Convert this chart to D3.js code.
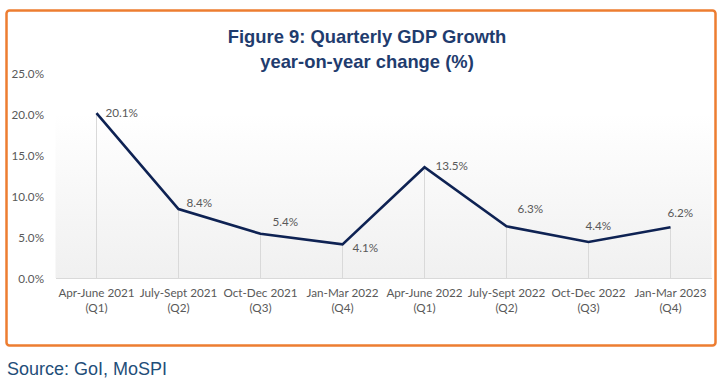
<!DOCTYPE html>
<html><head><meta charset="utf-8">
<script src="https://cdn.jsdelivr.net/npm/d3@7"></script>
<style>
html,body{margin:0;padding:0;background:#fff;}
svg{display:block;}
</style></head>
<body>
<svg id="chart" width="725" height="391"></svg>
<script>
const categories = ["Apr-June 2021|(Q1)","July-Sept 2021|(Q2)","Oct-Dec 2021|(Q3)","Jan-Mar 2022|(Q4)","Apr-June 2022|(Q1)","July-Sept 2022|(Q2)","Oct-Dec 2022|(Q3)","Jan-Mar 2023|(Q4)"];
const gdpGrowth = [20.1, 8.4, 5.4, 4.1, 13.5, 6.3, 4.4, 6.2];
const yTicks = [0, 5, 10, 15, 20, 25];
const titleLines = ["Figure 9: Quarterly GDP Growth", "year-on-year change (%)"];
const sourceText = "Source: GoI, MoSPI";
// label offsets (dx, dy) relative to point
const labelOffsets = [[9,4],[8,-2],[12,-8],[10,8],[11,3],[11,-13],[-3,-12],[-3,-10]];

const svg = d3.select("#chart");

const x = d3.scaleBand().domain(categories).range([55.5, 711.5]);
const y = d3.scaleLinear().domain([0, 25]).range([278, 73]);
const labelFont = "Lato, 'Open Sans', sans-serif";

// orange frame
svg.append("rect").attr("x",6.5).attr("y",10.5).attr("width",709).attr("height",335)
  .attr("rx",3).attr("fill","#fff").attr("stroke","#ED7D31").attr("stroke-width",2.5);

// gradient plot background
const defs = svg.append("defs");
const g = defs.append("linearGradient").attr("id","bg").attr("x1",0).attr("y1",0).attr("x2",0).attr("y2",1);
g.append("stop").attr("offset","0%").attr("stop-color","#ffffff");
g.append("stop").attr("offset","20%").attr("stop-color","#ffffff");
g.append("stop").attr("offset","100%").attr("stop-color","#f0f0f0");
svg.append("rect").attr("x",55.5).attr("y",y(25)).attr("width",656).attr("height",y(0)-y(25)).attr("fill","url(#bg)");

// title
const title = svg.append("text").attr("text-anchor","middle")
  .attr("font-family","'Liberation Sans', Arial, sans-serif").attr("font-weight","bold")
  .attr("font-size",18.4).attr("fill","#1F3C6E");
titleLines.forEach((t,i)=>title.append("tspan").attr("x",367).attr("y",43+i*25).text(t));

// drop lines
svg.append("g").selectAll("line").data(gdpGrowth).join("line")
  .attr("x1",(d,i)=>x(categories[i])+x.bandwidth()/2)
  .attr("x2",(d,i)=>x(categories[i])+x.bandwidth()/2)
  .attr("y1",d=>y(d)).attr("y2",y(0))
  .attr("stroke","#D9D9D9").attr("stroke-width",1);

// x axis
const xAxis = svg.append("g").attr("transform",`translate(0,${y(0)})`)
  .call(d3.axisBottom(x).tickSize(0).tickFormat(""));
xAxis.select(".domain").attr("stroke","#D9D9D9").attr("stroke-width",1.2);
xAxis.selectAll(".tick").each(function(d){
  const parts = d.split("|");
  const t = d3.select(this).append("text").attr("fill","#595959")
    .attr("font-family",labelFont).attr("font-size",11.7).attr("text-anchor","middle");
  parts.forEach((p,i)=>t.append("tspan").attr("x",0).attr("y",18.5+i*15).text(p));
});

// y axis
const yAxis = svg.append("g").attr("transform","translate(44,0)")
  .call(d3.axisLeft(y).tickValues(yTicks).tickSize(0).tickPadding(0).tickFormat(d=>d.toFixed(1)+"%"));
yAxis.select(".domain").remove();
yAxis.selectAll("text").attr("fill","#595959").attr("font-family",labelFont).attr("font-size",11.7).attr("dy","0.35em");

// line
const line = d3.line().x((d,i)=>x(categories[i])+x.bandwidth()/2).y(d=>y(d));
svg.append("path").datum(gdpGrowth).attr("d",line).attr("fill","none")
  .attr("stroke","#0E2253").attr("stroke-width",2.6).attr("stroke-linejoin","miter");

// data labels
svg.append("g").selectAll("text").data(gdpGrowth).join("text")
  .attr("x",(d,i)=>x(categories[i])+x.bandwidth()/2+labelOffsets[i][0])
  .attr("y",(d,i)=>y(d)+labelOffsets[i][1])
  .attr("fill","#595959").attr("font-family",labelFont).attr("font-size",11.7)
  .text(d=>d.toFixed(1)+"%");

// source
svg.append("text").attr("x",7).attr("y",375).attr("fill","#1F4E79")
  .attr("font-family","'Liberation Sans', Arial, sans-serif").attr("font-size",18).text(sourceText);
</script>
</body></html>
